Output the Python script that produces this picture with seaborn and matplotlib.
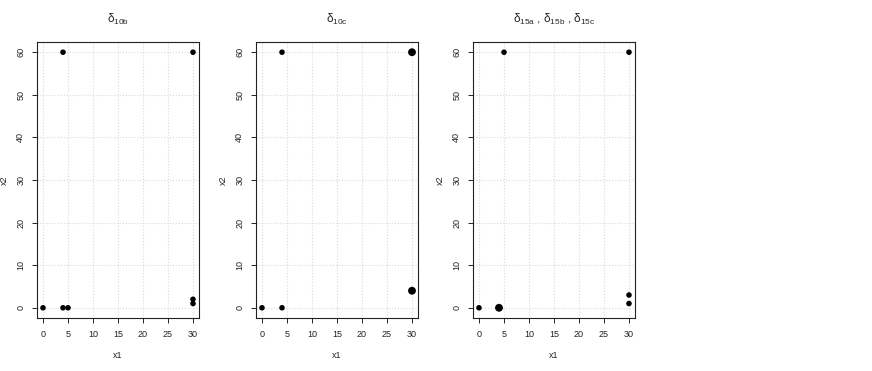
import matplotlib
matplotlib.use('Agg')
import matplotlib.pyplot as plt
import seaborn as sns

# data (count -> point size)
x1_10b = [0, 4, 5, 4, 30, 30, 30]
x2_10b = [0, 0, 0, 60, 60, 1, 2]
n_10b = [1, 1, 1, 1, 1, 1, 1]

x1_10c = [0, 4, 4, 30, 30]
x2_10c = [0, 0, 60, 60, 4]
n_10c = [1, 1, 1, 2, 2]

x1_15 = [0, 4, 5, 30, 30, 30]
x2_15 = [0, 0, 60, 60, 3, 1]
n_15 = [1, 2, 1, 1, 1, 1]

titles = [r'$\delta_{\mathrm{10b}}$',
          r'$\delta_{\mathrm{10c}}$',
          r'$\delta_{\mathrm{15a}}$ , $\delta_{\mathrm{15b}}$ , $\delta_{\mathrm{15c}}$']
xticks = [0, 5, 10, 15, 20, 25, 30]
yticks = [0, 10, 20, 30, 40, 50, 60]

sns.set_style('white')
plt.rcParams['font.family'] = ['Liberation Sans', 'DejaVu Sans']
plt.rcParams['mathtext.fontset'] = 'custom'
plt.rcParams['mathtext.rm'] = 'Liberation Sans'
plt.rcParams['mathtext.it'] = 'Liberation Sans'

fig = plt.figure(figsize=(8.72, 3.71), dpi=100)
lefts = [37, 256, 473]
panels = [(x1_10b, x2_10b, n_10b), (x1_10c, x2_10c, n_10c), (x1_15, x2_15, n_15)]

for i in range(3):
    ax = fig.add_axes([lefts[i] / 872, 53 / 371, 162 / 872, 276 / 371])
    x, y, n = panels[i]
    ax.grid(True, color='#d9d9d9', linestyle=':', linewidth=0.8)
    ax.set_axisbelow(True)
    sns.scatterplot(x=x, y=y, size=n, sizes={1: 16, 2: 32}, color='black',
                    linewidth=0, legend=False, ax=ax)
    ax.set_xlim(-1.2, 31.2)
    ax.set_ylim(-2.4, 62.4)
    ax.set_xticks(xticks)
    ax.set_yticks(yticks)
    ax.tick_params(axis='both', direction='out', length=3.5, width=0.7,
                   labelsize=6.5, colors='#222222', pad=5, left=True, bottom=True)
    plt.setp(ax.get_yticklabels(), rotation=90, va='center')
    for s in ax.spines.values():
        s.set_color('#222222')
        s.set_linewidth(0.8)
    ax.set_xlabel('x1', fontsize=6.5, labelpad=9)
    ax.set_ylabel('x2', fontsize=6.5, labelpad=5)
    ax.set_title(titles[i], fontsize=8.5, pad=14)

fig.savefig('out.png', dpi=100)
